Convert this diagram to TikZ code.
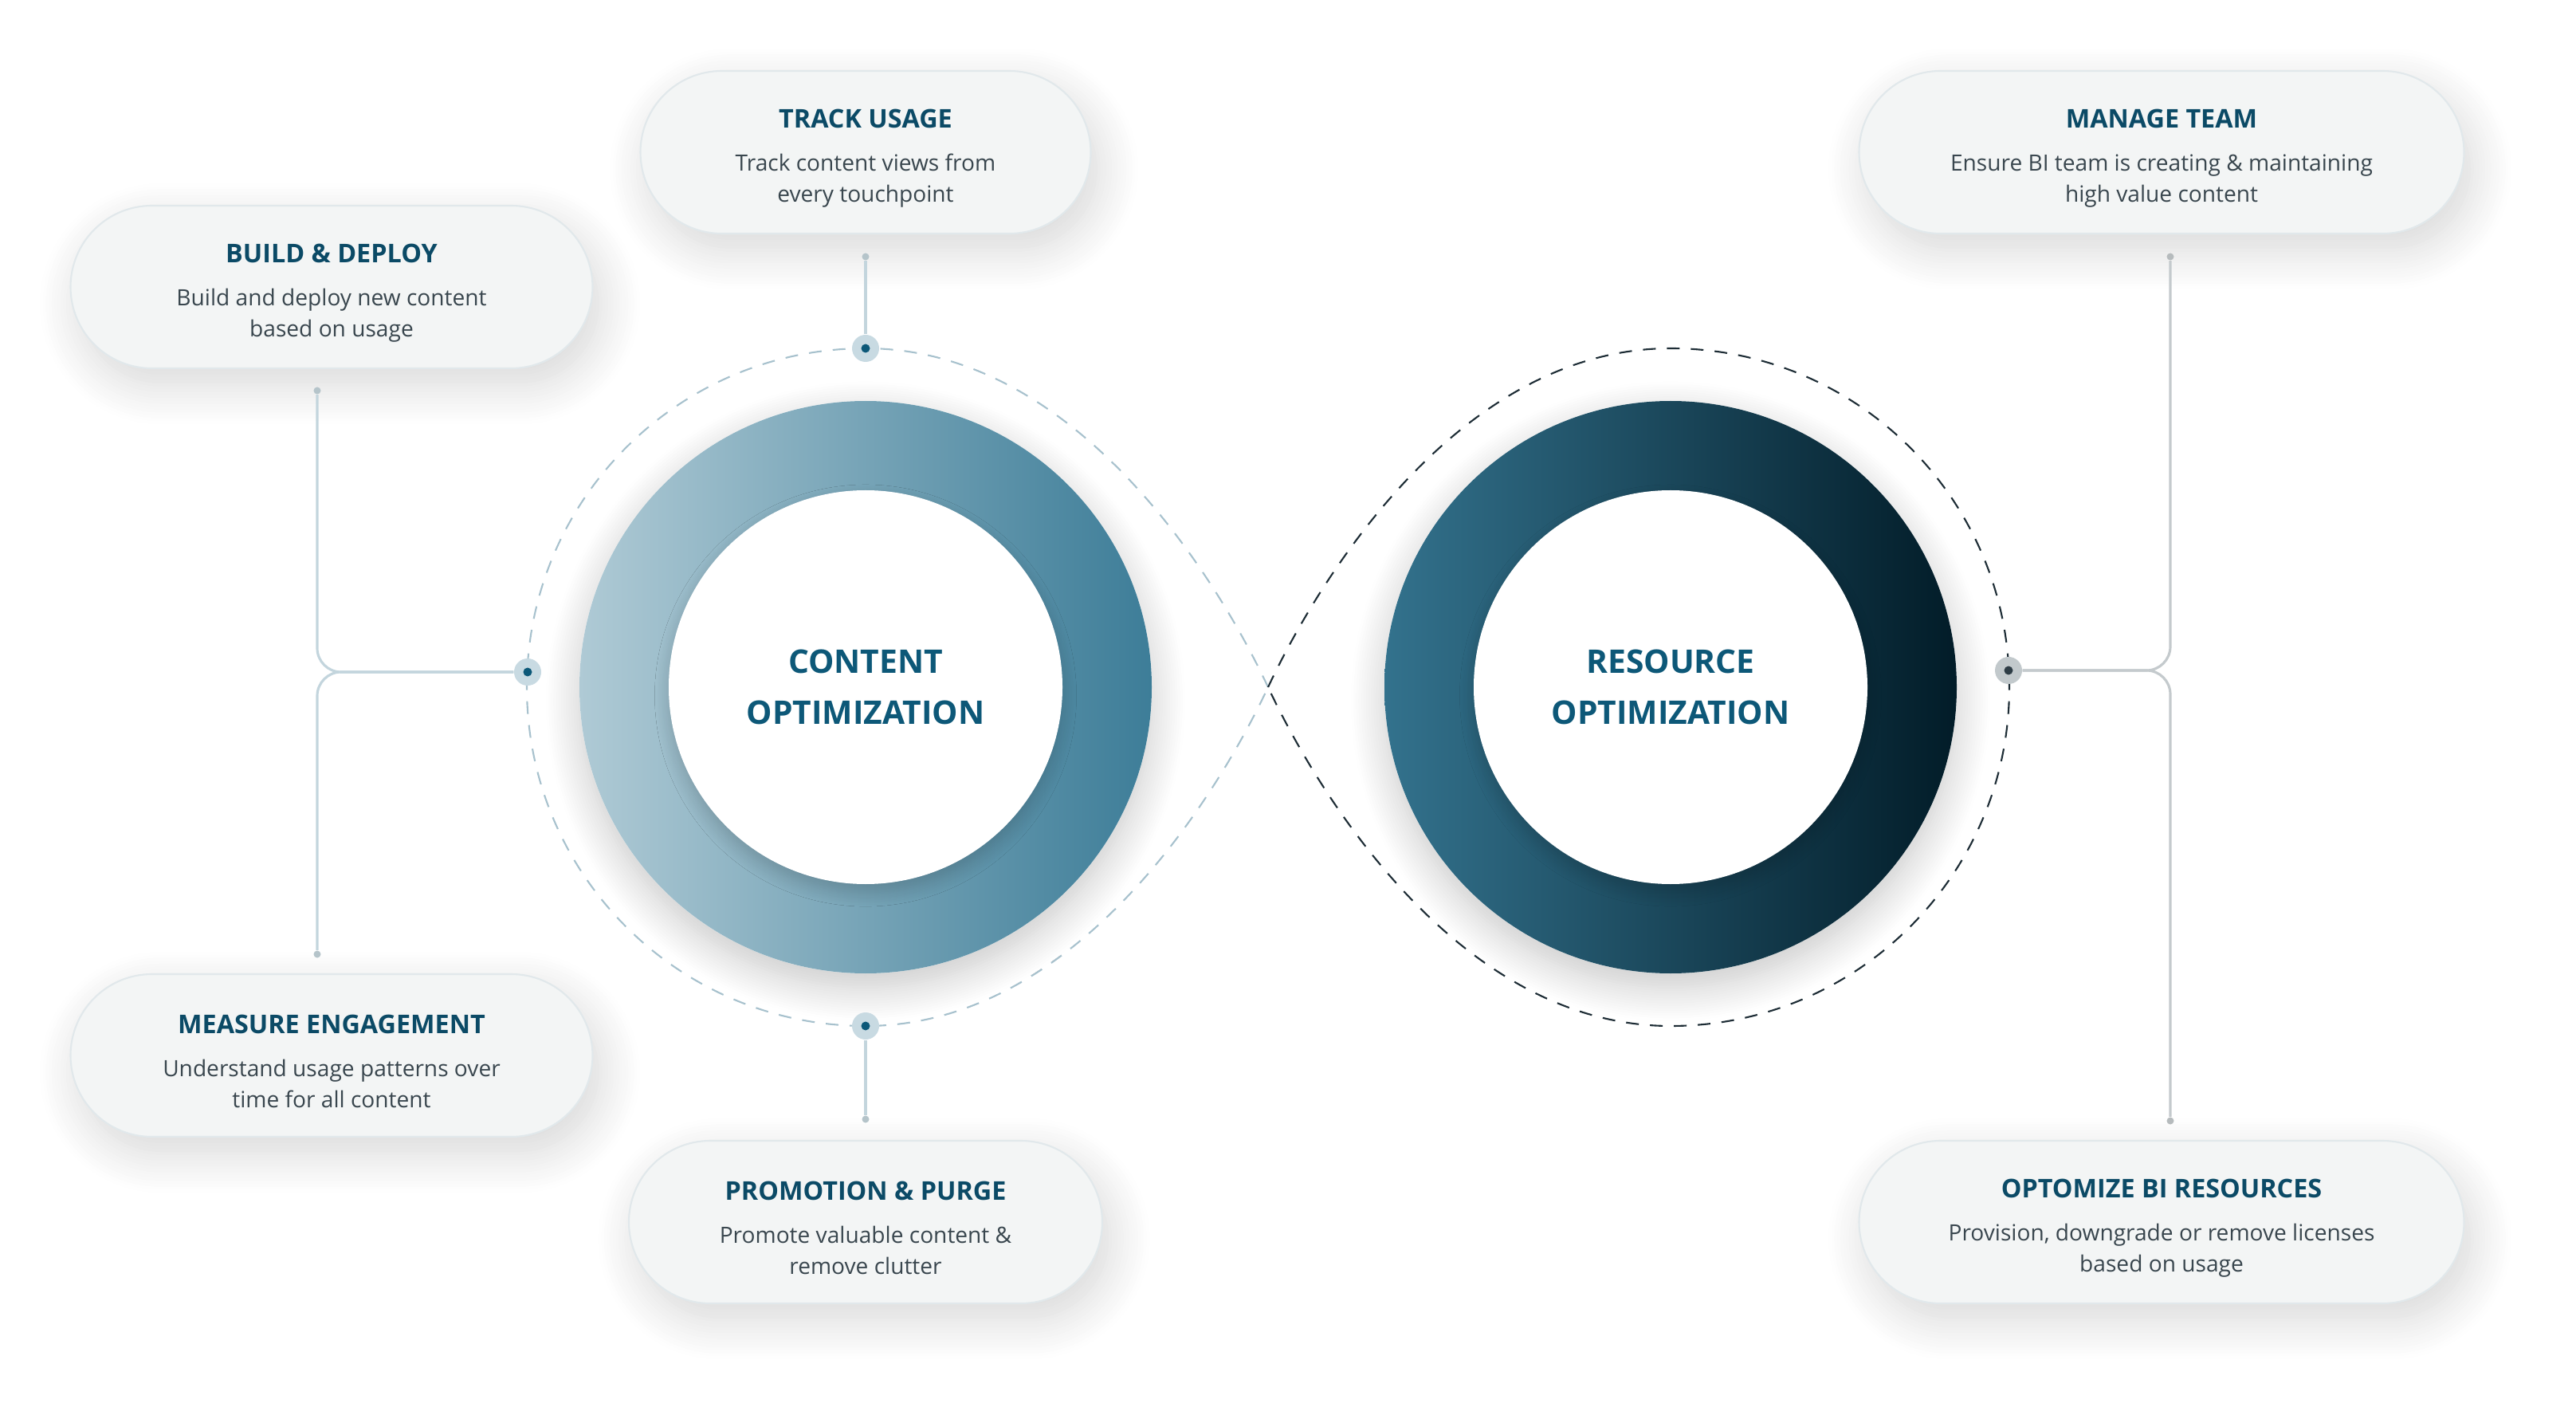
\documentclass[tikz,border=0pt]{standalone}
\usepackage{fontspec}
\setmainfont{Open Sans}
\usetikzlibrary{positioning, calc, shadows.blur}

\definecolor{cardfill}{HTML}{F3F5F5}
\definecolor{cardline}{HTML}{E1E8EB}
\definecolor{titleblue}{HTML}{0B4A66}
\definecolor{bodygrey}{HTML}{39464E}
\definecolor{labelblue}{HTML}{0D5878}
\definecolor{ringlight}{HTML}{AFCAD5}
\definecolor{ringmid}{HTML}{3D7D98}
\definecolor{ringteal}{HTML}{33728D}
\definecolor{ringdark}{HTML}{021C28}
\definecolor{linkblue}{HTML}{C3D5DD}
\definecolor{linkgrey}{HTML}{C4CACD}
\definecolor{hubblue}{HTML}{C8DAE2}
\definecolor{hubgrey}{HTML}{C2C9CC}
\definecolor{coreblue}{HTML}{0C5878}
\definecolor{coregrey}{HTML}{2E3D46}
\definecolor{dashblue}{HTML}{A7C1CD}
\definecolor{dashdark}{HTML}{1D2C35}

\begin{document}
\begin{tikzpicture}[
    card/.style={draw=cardline, line width=0.6pt, fill=cardfill, rounded corners=1.02cm,
        minimum height=2.04cm, inner sep=0pt, align=center,
        font=\fontsize{8}{11.2}\selectfont\color{bodygrey},
        blur shadow={shadow xshift=3pt, shadow yshift=-6pt, shadow blur radius=14pt,
            shadow blur steps=14, shadow opacity=16}},
    ringlabel/.style={align=center, font=\fontsize{11.6}{18}\selectfont\bfseries\color{labelblue}},
    tip/.style={circle, fill=#1, minimum size=0.09cm, inner sep=0pt},
    hub/.style={circle, fill=hub#1, minimum size=0.34cm, inner sep=0pt,
        path picture={\fill[core#1] (path picture bounding box.center) circle (0.055);}},
    linkL/.style={draw=linkblue, line width=0.9pt},
    linkR/.style={draw=linkgrey, line width=0.9pt},
    loop/.style={draw=#1, line width=0.6pt, dash pattern=on 0.16cm off 0.14cm},
]
\useasboundingbox (0,0) rectangle (32.32,17.74);

% centres of the two rings and the crossing of the dashed loops
\coordinate (cl) at (10.86,9.12);
\coordinate (cr) at (20.96,9.12);
\coordinate (cx) at (15.91,9.12);

% dashed figure eight
\draw[loop=dashblue] (cx) .. controls +(-0.68,1.45) and +(2.6,0) .. (10.86,13.37)
    arc[start angle=90, end angle=270, radius=4.25]
    .. controls +(2.6,0) and +(-0.68,-1.45) .. (cx);
\draw[loop=dashdark] (cx) .. controls +(0.68,1.45) and +(-2.6,0) .. (20.96,13.37)
    arc[start angle=90, end angle=-90, radius=4.25]
    .. controls +(-2.6,0) and +(0.68,-1.45) .. (cx);

% rings
\fill[white, blur shadow={shadow xshift=0pt, shadow yshift=-5pt, shadow blur radius=12pt,
    shadow blur steps=14, shadow opacity=22}] (cl) circle (3.59);
\shade[left color=ringlight, right color=ringmid] (cl) circle (3.59);
\fill[white, blur shadow={shadow xshift=0pt, shadow yshift=-3pt, shadow blur radius=5pt,
    shadow blur steps=10, shadow opacity=18}] (cl) circle (2.47);

\fill[white, blur shadow={shadow xshift=0pt, shadow yshift=-5pt, shadow blur radius=12pt,
    shadow blur steps=14, shadow opacity=22}] (cr) circle (3.59);
\shade[left color=ringteal, right color=ringdark] (cr) circle (3.59);
\fill[white, blur shadow={shadow xshift=0pt, shadow yshift=-3pt, shadow blur radius=5pt,
    shadow blur steps=10, shadow opacity=18}] (cr) circle (2.47);

\node[ringlabel] (content) at (cl) {CONTENT\\OPTIMIZATION};
\node[ringlabel] (resource) at (cr) {RESOURCE\\OPTIMIZATION};

% cards
\node[card, minimum width=5.65cm] (track) at (10.86,15.83)
    {{\rule{0pt}{11pt}\fontsize{9.2}{11}\selectfont\bfseries\color{titleblue}TRACK USAGE}\\[4.2pt]
     Track content views from\\every touchpoint};
\node[card, minimum width=6.55cm] (build) at (4.16,14.14)
    {{\rule{0pt}{11pt}\fontsize{9.2}{11}\selectfont\bfseries\color{titleblue}BUILD \& DEPLOY}\\[4.2pt]
     Build and deploy new content\\based on usage};
\node[card, minimum width=6.55cm] (measure) at (4.16,4.50)
    {{\rule{0pt}{11pt}\fontsize{9.2}{11}\selectfont\bfseries\color{titleblue}MEASURE ENGAGEMENT}\\[4.2pt]
     Understand usage patterns over\\time for all content};
\node[card, minimum width=5.94cm] (promo) at (10.86,2.41)
    {{\rule{0pt}{11pt}\fontsize{9.2}{11}\selectfont\bfseries\color{titleblue}PROMOTION \& PURGE}\\[4.2pt]
     Promote valuable content \&\\remove clutter};
\node[card, minimum width=7.59cm] (team) at (27.12,15.83)
    {{\rule{0pt}{11pt}\fontsize{9.2}{11}\selectfont\bfseries\color{titleblue}MANAGE TEAM}\\[4.2pt]
     Ensure BI team is creating \& maintaining\\high value content};
\node[card, minimum width=7.59cm] (bires) at (27.12,2.41)
    {{\rule{0pt}{11pt}\fontsize{9.2}{11}\selectfont\bfseries\color{titleblue}OPTOMIZE BI RESOURCES}\\[4.2pt]
     Provision, downgrade or remove licenses\\based on usage};

% end dots under the cards
\node[tip=linkblue!80!gray] (tipT) at (10.86,14.52) {};
\node[tip=linkblue!80!gray] (tipP) at (10.86,3.70) {};
\node[tip=linkblue!80!gray] (tipBD) at (3.98,12.84) {};
\node[tip=linkblue!80!gray] (tipME) at (3.98,5.77) {};
\node[tip=linkgrey!80!gray] (tipMT) at (27.23,14.52) {};
\node[tip=linkgrey!80!gray] (tipBR) at (27.23,3.68) {};

% hubs on the dashed loops
\node[hub=blue] (hubT) at (10.86,13.37) {};
\node[hub=blue] (hubB) at (10.86,4.87) {};
\node[hub=blue] (hubL) at (6.62,9.31) {};
\node[hub=grey] (hubR) at (25.20,9.33) {};

% links
\draw[linkL] (tipT) -- (hubT);
\draw[linkL] (tipP) -- (hubB);
\draw[linkL, rounded corners=0.3cm] (tipBD) |- (hubL);
\draw[linkL, rounded corners=0.3cm] (tipME) |- (hubL);
\draw[linkR, rounded corners=0.3cm] (tipMT) |- (hubR);
\draw[linkR, rounded corners=0.3cm] (tipBR) |- (hubR);

\end{tikzpicture}
\end{document}
